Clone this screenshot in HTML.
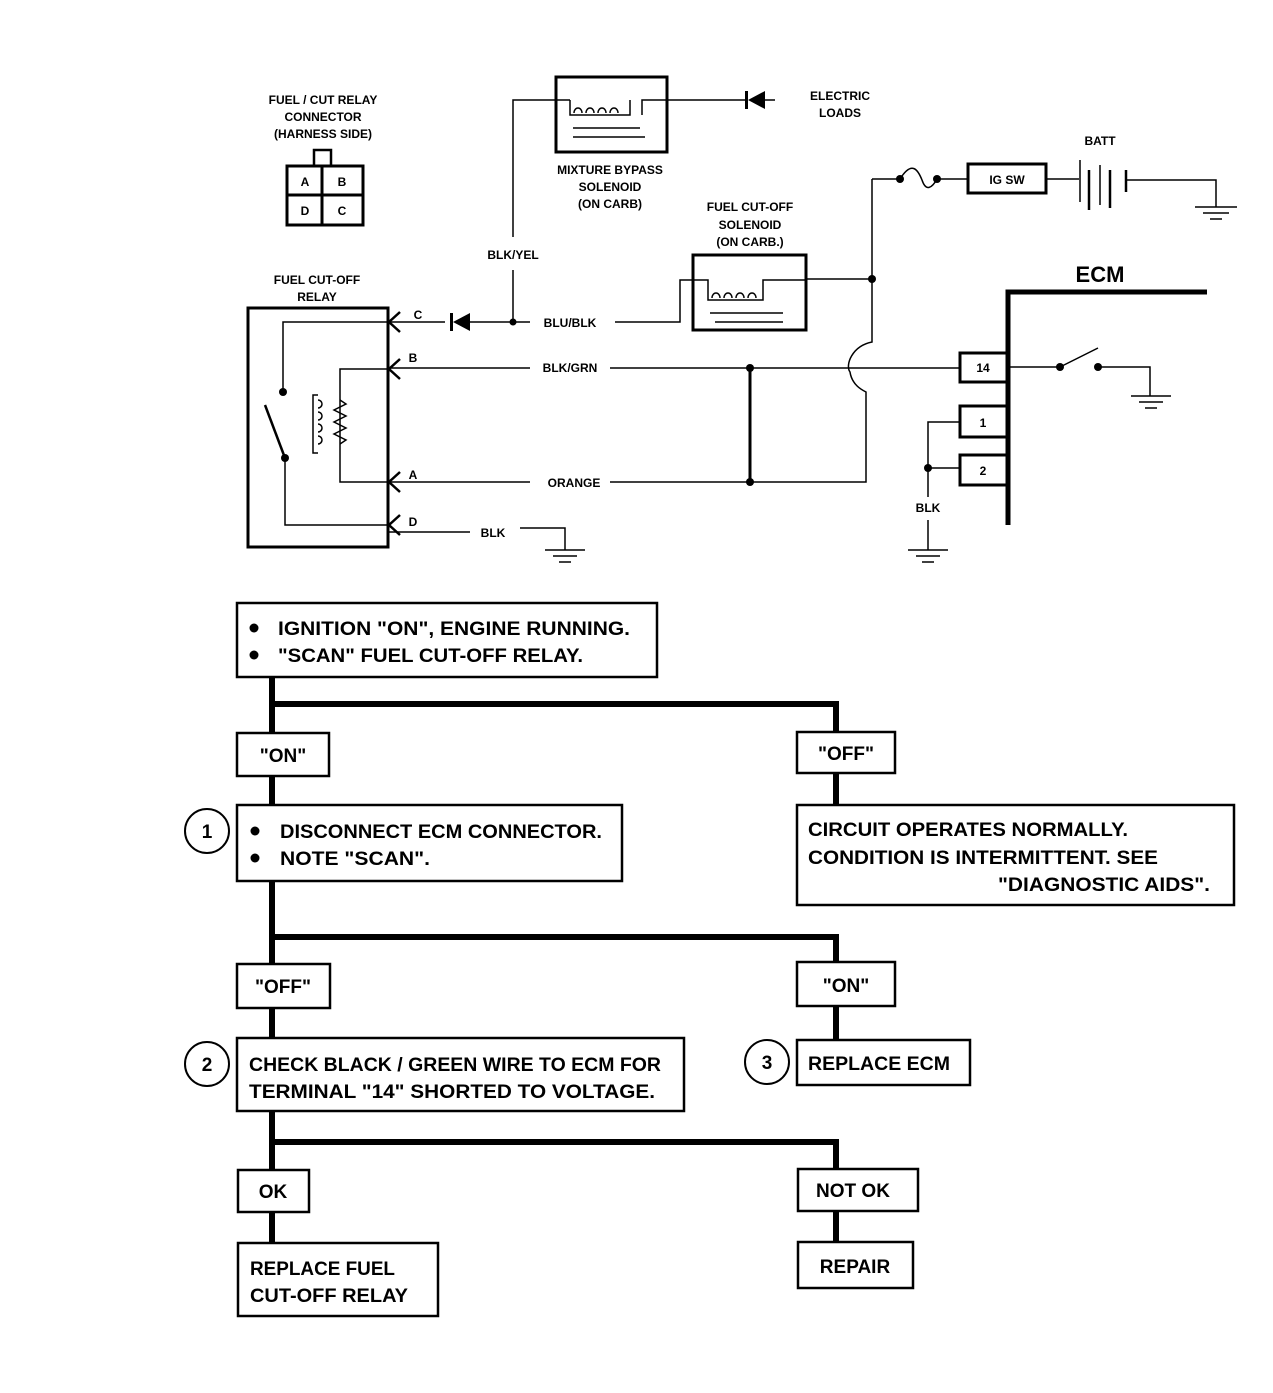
<!DOCTYPE html>
<html><head><meta charset="utf-8"><style>
html,body{margin:0;padding:0;background:#fff;}
svg{display:block;}
text{font-family:"Liberation Sans",sans-serif;font-weight:bold;fill:#000;}
.s{font-size:12px;}
.f{font-size:19px;}
</style></head><body>
<svg width="1273" height="1393" viewBox="0 0 1273 1393" xmlns="http://www.w3.org/2000/svg">
<g fill="none" stroke="#000" stroke-width="1.5">
<rect x="314" y="150" width="17" height="16" stroke-width="2.5"/>
<rect x="287" y="166" width="76" height="59" stroke-width="3"/>
<line x1="322" y1="166" x2="322" y2="225" stroke-width="3"/>
<line x1="287" y1="195" x2="363" y2="195" stroke-width="3"/>
<rect x="248" y="308" width="140" height="239" stroke-width="3"/>
<polyline points="388,322 283,322 283,392"/>
<line x1="265" y1="405" x2="285" y2="458" stroke-width="2.5"/>
<polyline points="285,458 285,525 388,525"/>
<polyline points="388,369 340,369 340,482 388,482"/>
<path d="M318,395 h-5 v58 h5 M340,400 l6,4 l-12,6 l12,6 l-12,6 l12,6 l-12,6 l12,6 l-6,4"/>
<path d="M318,400 a4,4 0 1 1 0,8 M318,412 a4,4 0 1 1 0,8 M318,424 a4,4 0 1 1 0,8 M318,436 a4,4 0 1 1 0,8"/>
<path d="M400,312 l-11,10 l11,10 M400,359 l-11,10 l11,10 M400,472 l-11,10 l11,10 M400,515 l-11,10 l11,10" stroke-width="2.5"/>
<line x1="388" y1="322" x2="445" y2="322"/>
<line x1="470" y1="322" x2="530" y2="322"/>
<polyline points="615,322 680,322 680,280 693,280"/>
<polyline points="513,322 513,270"/>
<polyline points="513,237 513,100 570,100"/>
<rect x="556" y="77" width="111" height="75" stroke-width="3"/>
<path d="M570,100 v15 h60 v-15 M667,100 h-25 v15"/>
<path d="M574,113 a4,5 0 1 1 8,0 M586,113 a4,5 0 1 1 8,0 M598,113 a4,5 0 1 1 8,0 M610,113 a4,5 0 1 1 8,0"/>
<line x1="573" y1="128" x2="640" y2="128"/><line x1="573" y1="137" x2="645" y2="137"/>
<line x1="667" y1="100" x2="745" y2="100"/><line x1="765" y1="100" x2="775" y2="100"/>
<rect x="693" y="255" width="113" height="75" stroke-width="3"/>
<path d="M693,280 h15 v20 h55 v-20 h43"/>
<path d="M712,298 a4,5 0 1 1 8,0 M724,298 a4,5 0 1 1 8,0 M736,298 a4,5 0 1 1 8,0 M748,298 a4,5 0 1 1 8,0"/>
<line x1="710" y1="313" x2="783" y2="313"/><line x1="715" y1="322" x2="783" y2="322"/>
<line x1="806" y1="279" x2="872" y2="279"/>
<path d="M872,179 V342 C852,346 845,365 850,372 C852,385 862,390 866,392 V482 H610"/>
<line x1="872" y1="179" x2="900" y2="179"/>
<path d="M900,179 C912,160 918,170 922,180 C926,192 932,188 937,179"/>
<line x1="937" y1="179" x2="968" y2="179"/>
<rect x="968" y="164" width="78" height="29" stroke-width="3"/>
<line x1="1046" y1="179" x2="1079" y2="179"/>
<line x1="1080" y1="160" x2="1080" y2="202"/>
<line x1="1089" y1="170" x2="1089" y2="210" stroke-width="2.5"/>
<line x1="1100" y1="165" x2="1100" y2="205"/>
<line x1="1110" y1="170" x2="1110" y2="208" stroke-width="2.5"/>
<line x1="1126" y1="170" x2="1126" y2="192" stroke-width="2.5"/>
<polyline points="1126,180 1216,180 1216,207"/>
<line x1="388" y1="368" x2="530" y2="368"/>
<line x1="610" y1="368" x2="960" y2="368"/>
<line x1="750" y1="368" x2="750" y2="482" stroke-width="3"/>
<line x1="388" y1="482" x2="530" y2="482"/>
<line x1="388" y1="532" x2="470" y2="532"/>
<polyline points="520,528 565,528 565,550"/>
<polyline points="1207,292 1008,292 1008,525" stroke-width="5"/>
<rect x="960" y="353" width="47" height="29" stroke-width="3"/>
<rect x="960" y="406" width="47" height="31" stroke-width="3"/>
<rect x="960" y="455" width="47" height="30" stroke-width="3"/>
<line x1="1008" y1="367" x2="1060" y2="367"/>
<line x1="1060" y1="367" x2="1098" y2="348"/>
<polyline points="1098,367 1150,367 1150,396"/>
<polyline points="960,422 928,422 928,497"/>
<line x1="928" y1="468" x2="960" y2="468"/>
<line x1="928" y1="520" x2="928" y2="550"/>
<g stroke-width="1.5">
<path d="M1195,207 h42 M1203,213 h26 M1210,219 h12"/>
<path d="M1131,396 h40 M1139,402 h24 M1145,408 h12"/>
<path d="M545,550 h40 M553,556 h24 M559,562 h12"/>
<path d="M908,550 h40 M916,556 h24 M922,562 h12"/>
</g>
</g>
<g fill="#000">
<path d="M470,313 v18 l-17,-9 z"/><rect x="450" y="313" width="3" height="18"/>
<path d="M765,91 v18 l-17,-9 z"/><rect x="745" y="91" width="3" height="18"/>
<circle cx="513" cy="322" r="3.5"/><circle cx="283" cy="392" r="4"/><circle cx="285" cy="458" r="4"/>
<circle cx="872" cy="279" r="4"/><circle cx="750" cy="368" r="4"/><circle cx="750" cy="482" r="4"/>
<circle cx="900" cy="179" r="4"/><circle cx="937" cy="179" r="4"/>
<circle cx="1060" cy="367" r="4"/><circle cx="1098" cy="367" r="4"/><circle cx="928" cy="468" r="4"/>
</g>
<g class="s" text-anchor="middle">
<text x="323" y="104">FUEL / CUT RELAY</text>
<text x="323" y="121">CONNECTOR</text>
<text x="323" y="138">(HARNESS SIDE)</text>
<text x="305" y="186">A</text><text x="342" y="186">B</text>
<text x="305" y="215">D</text><text x="342" y="215">C</text>
<text x="317" y="284">FUEL CUT-OFF</text><text x="317" y="301">RELAY</text>
<text x="418" y="319">C</text><text x="413" y="362">B</text><text x="413" y="479">A</text><text x="413" y="526">D</text>
<text x="513" y="259">BLK/YEL</text>
<text x="570" y="327">BLU/BLK</text>
<text x="570" y="372">BLK/GRN</text>
<text x="574" y="487">ORANGE</text>
<text x="493" y="537">BLK</text>
<text x="610" y="174">MIXTURE BYPASS</text><text x="610" y="191">SOLENOID</text><text x="610" y="208">(ON CARB)</text>
<text x="750" y="211">FUEL CUT-OFF</text><text x="750" y="229">SOLENOID</text><text x="750" y="246">(ON CARB.)</text>
<text x="840" y="100">ELECTRIC</text><text x="840" y="117">LOADS</text>
<text x="1100" y="145">BATT</text>
<text x="1007" y="184">IG SW</text>
<text x="983" y="372">14</text><text x="983" y="427">1</text><text x="983" y="475">2</text>
<text x="928" y="512">BLK</text>
</g>
<text x="1100" y="282" text-anchor="middle" style="font-size:22px">ECM</text>
<g fill="none" stroke="#000" stroke-width="6">
<line x1="272" y1="677" x2="272" y2="733"/>
<polyline points="272,704 836,704 836,732"/>
<line x1="272" y1="776" x2="272" y2="805"/>
<line x1="836" y1="773" x2="836" y2="805"/>
<line x1="272" y1="881" x2="272" y2="964"/>
<polyline points="272,937 836,937 836,962"/>
<line x1="272" y1="1008" x2="272" y2="1038"/>
<line x1="836" y1="1006" x2="836" y2="1040"/>
<line x1="272" y1="1111" x2="272" y2="1170"/>
<polyline points="272,1142 836,1142 836,1169"/>
<line x1="272" y1="1212" x2="272" y2="1243"/>
<line x1="836" y1="1211" x2="836" y2="1242"/>
</g>
<g fill="#fff" stroke="#000" stroke-width="2.5">
<rect x="237" y="603" width="420" height="74"/>
<rect x="237" y="733" width="92" height="43"/>
<rect x="797" y="732" width="98" height="41"/>
<rect x="237" y="805" width="385" height="76"/>
<rect x="797" y="805" width="437" height="100"/>
<rect x="237" y="964" width="93" height="44"/>
<rect x="797" y="962" width="98" height="44"/>
<rect x="237" y="1038" width="447" height="73"/>
<rect x="797" y="1040" width="173" height="45"/>
<rect x="238" y="1170" width="71" height="42"/>
<rect x="798" y="1169" width="120" height="42"/>
<rect x="238" y="1243" width="200" height="73"/>
<rect x="798" y="1242" width="115" height="46"/>
<circle cx="207" cy="831" r="22" stroke-width="2"/>
<circle cx="207" cy="1064" r="22" stroke-width="2"/>
<circle cx="767" cy="1062" r="22" stroke-width="2"/>
</g>
<g fill="#000">
<circle cx="254" cy="628" r="4.5"/><circle cx="254" cy="655" r="4.5"/>
<circle cx="255" cy="831" r="4.5"/><circle cx="255" cy="858" r="4.5"/>
</g>
<g class="f">
<text x="278" y="635" textLength="352" lengthAdjust="spacingAndGlyphs">IGNITION "ON", ENGINE RUNNING.</text>
<text x="278" y="662" textLength="305" lengthAdjust="spacingAndGlyphs">"SCAN" FUEL CUT-OFF RELAY.</text>
<text x="283" y="762" text-anchor="middle">"ON"</text>
<text x="846" y="760" text-anchor="middle">"OFF"</text>
<text x="280" y="838" textLength="322" lengthAdjust="spacingAndGlyphs">DISCONNECT ECM CONNECTOR.</text>
<text x="280" y="865" textLength="150" lengthAdjust="spacingAndGlyphs">NOTE "SCAN".</text>
<text x="808" y="836" textLength="320" lengthAdjust="spacingAndGlyphs">CIRCUIT OPERATES NORMALLY.</text>
<text x="808" y="864" textLength="350" lengthAdjust="spacingAndGlyphs">CONDITION IS INTERMITTENT.  SEE</text>
<text x="998" y="891" textLength="212" lengthAdjust="spacingAndGlyphs">"DIAGNOSTIC AIDS".</text>
<text x="283" y="993" text-anchor="middle">"OFF"</text>
<text x="846" y="992" text-anchor="middle">"ON"</text>
<text x="249" y="1071" textLength="412" lengthAdjust="spacingAndGlyphs">CHECK BLACK / GREEN WIRE TO ECM FOR</text>
<text x="249" y="1098" textLength="406" lengthAdjust="spacingAndGlyphs">TERMINAL "14" SHORTED TO VOLTAGE.</text>
<text x="808" y="1070" textLength="142" lengthAdjust="spacingAndGlyphs">REPLACE ECM</text>
<text x="273" y="1198" text-anchor="middle">OK</text>
<text x="853" y="1197" text-anchor="middle">NOT OK</text>
<text x="250" y="1275" textLength="145" lengthAdjust="spacingAndGlyphs">REPLACE FUEL</text>
<text x="250" y="1302" textLength="158" lengthAdjust="spacingAndGlyphs">CUT-OFF RELAY</text>
<text x="855" y="1273" text-anchor="middle">REPAIR</text>
<text x="207" y="838" text-anchor="middle">1</text>
<text x="207" y="1071" text-anchor="middle">2</text>
<text x="767" y="1069" text-anchor="middle">3</text>
</g>
</svg>
</body></html>
